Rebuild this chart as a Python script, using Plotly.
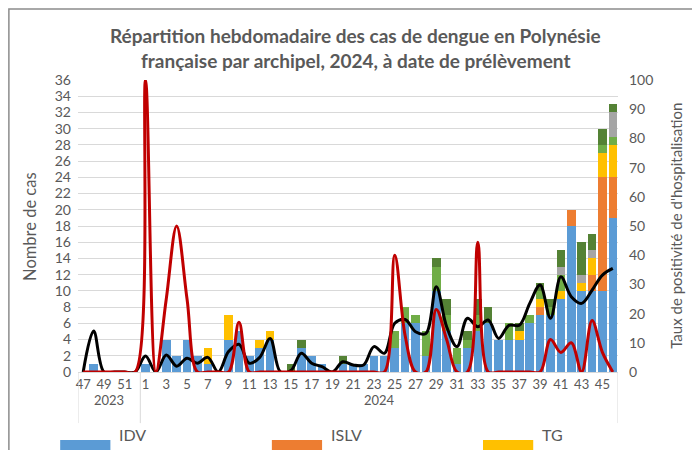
import plotly.graph_objects as go

# semaines : 47-52 de 2023 puis 1-46 de 2024
weeks = [47, 48, 49, 50, 51, 52] + list(range(1, 47))
x_idx = list(range(len(weeks)))

# nombre de cas par archipel (un élément par semaine)
idv = [0, 1, 0, 0, 0, 0,
       1, 0, 4, 2, 4, 2, 1, 0, 4, 5, 2, 3, 4, 0, 0, 3, 2, 1, 0, 1,
       1, 1, 2, 2, 3, 6, 6, 2, 10, 5, 1, 3, 5, 6, 4, 4, 4, 6, 7, 7,
       9, 18, 10, 10, 10, 19]
islv = [0, 0, 0, 0, 0, 0,
        0, 0, 0, 0, 0, 0, 0, 0, 0, 0, 0, 0, 0, 0, 0, 0, 0, 0, 0, 0,
        0, 0, 0, 0, 0, 0, 0, 0, 0, 0, 0, 0, 0, 0, 0, 0, 0, 0, 1, 0,
        0, 2, 0, 2, 14, 5]
tg = [0, 0, 0, 0, 0, 0,
      0, 0, 0, 0, 0, 0, 2, 0, 3, 0, 0, 1, 1, 0, 0, 0, 0, 0, 0, 0,
      0, 0, 0, 0, 0, 0, 0, 0, 0, 0, 0, 0, 0, 0, 0, 0, 1, 0, 1, 0,
      1, 0, 1, 2, 3, 4]
marquises = [0, 0, 0, 0, 0, 0,
             0, 0, 0, 0, 0, 0, 0, 0, 0, 0, 0, 0, 0, 0, 0, 0, 0, 0, 0, 0,
             0, 0, 0, 0, 2, 2, 1, 3, 3, 2, 2, 1, 2, 0, 0, 2, 0, 1, 1, 1,
             2, 0, 0, 0, 1, 1]
australes = [0, 0, 0, 0, 0, 0,
             0, 0, 0, 0, 0, 0, 0, 0, 0, 0, 0, 0, 0, 0, 0, 0, 0, 0, 0, 0,
             0, 0, 0, 0, 0, 0, 0, 0, 0, 0, 0, 0, 0, 0, 0, 0, 0, 0, 0, 0,
             1, 0, 1, 1, 0, 3]
autres = [0, 0, 0, 0, 0, 0,
          0, 0, 0, 0, 0, 0, 0, 0, 0, 0, 0, 0, 0, 0, 1, 1, 0, 0, 0, 1,
          0, 0, 0, 0, 0, 0, 0, 0, 1, 2, 0, 1, 2, 2, 0, 0, 1, 0, 1, 1,
          2, 0, 4, 2, 2, 1]

# taux (%) - axe de droite
taux_hospit = [0, 0, 0, 0, 0, 0,
               100, 0, 25, 50, 25, 0, 0, 0, 0, 17, 0, 0, 0, 0, 0, 0, 0, 0, 0, 0,
               0, 0, 0, 0, 40, 12.5, 0, 0, 21.4, 11.1, 0, 0, 44.4, 0, 0, 0, 0, 0, 0, 11.1,
               6.7, 10, 0, 17.6, 6.7, 0]
taux_positivite = [0, 14, 0, 0, 0, 0,
                   5.5, 0, 5.8, 2, 4.7, 3, 5, 0, 7, 9.5, 3, 5, 11.5, 0, 0.5, 6.4, 3, 1.8, 0, 3.5,
                   2.4, 2.4, 8.7, 6.4, 16.7, 18, 13.8, 13.2, 29.2, 15.5, 8.7, 18.4, 15.5, 17.8, 11.5, 16,
                   16, 23.5, 29.8, 18.4, 32.6, 25.8, 23.5, 28, 33.2, 35.5]

series = [
    ('IDV', idv, '#5B9BD5'),
    ('ISLV', islv, '#ED7D31'),
    ('TG', tg, '#FFC000'),
    ('Marquises', marquises, '#70AD47'),
    ('Australes', australes, '#A5A5A5'),
    ('Autres', autres, '#548235'),
]

GREY = '#595959'
FONT = 'Lato'

fig = go.Figure()
for name, vals, color in series:
    fig.add_trace(go.Bar(x=x_idx, y=vals, name=name, marker_color=color,
                         marker_line_width=0, showlegend=False))

fig.add_trace(go.Scatter(x=x_idx, y=taux_positivite, yaxis='y2', mode='lines',
                         line=dict(color='black', width=3, shape='spline', smoothing=1),
                         name='Taux de positivité', showlegend=False))
fig.add_trace(go.Scatter(x=x_idx, y=taux_hospit, yaxis='y2', mode='lines',
                         line=dict(color='#C00000', width=3, shape='spline', smoothing=1),
                         name="Taux d'hospitalisation", showlegend=False))

shapes = []
# séparateurs des années sous l'axe
for xs in [-0.5, 5.5, 51.5]:
    shapes.append(dict(type='line', xref='x', yref='paper', x0=xs, x1=xs, y0=0, y1=-0.175,
                       line=dict(color='#D9D9D9', width=1)))
# cadre du graphique
shapes.append(dict(type='rect', xref='paper', yref='paper', x0=-0.128, x1=1.144, y0=-0.4, y1=1.243,
                   line=dict(color='#8C8C8C', width=1.5)))

annotations = [
    dict(x=0.513, y=1.199, xref='paper', yref='paper', showarrow=False,
         text='<b>Répartition hebdomadaire des cas de dengue en Polynésie</b>',
         font=dict(size=19, color=GREY, family=FONT)),
    dict(x=0.513, y=1.113, xref='paper', yref='paper', showarrow=False,
         text='<b>française par archipel, 2024, à date de prélèvement</b>',
         font=dict(size=19, color=GREY, family=FONT)),
    dict(x=2.5, y=-0.13, xref='x', yref='paper', text='2023', showarrow=False,
         font=dict(size=13, color=GREY, family=FONT)),
    dict(x=28.5, y=-0.13, xref='x', yref='paper', text='2024', showarrow=False,
         font=dict(size=13, color=GREY, family=FONT)),
    dict(x=-0.089, y=0.5, xref='paper', yref='paper', text='Nombre de cas', textangle=-90,
         xanchor='center', yanchor='middle',
         showarrow=False, font=dict(size=16.5, color=GREY, family=FONT)),
    dict(x=1.107, y=0.5, xref='paper', yref='paper', text="Taux de positivité de d'hospitalisation",
         xanchor='center', yanchor='middle',
         textangle=-90, showarrow=False, font=dict(size=15, color=GREY, family=FONT)),
]

# légende (seule la première ligne est visible)
legend_pos = [(-0.033, 'IDV', '#5B9BD5'), (0.359, 'ISLV', '#ED7D31'), (0.75, 'TG', '#FFC000')]
for lx, name, color in legend_pos:
    shapes.append(dict(type='rect', xref='paper', yref='paper', x0=lx, x1=lx + 0.093,
                       y0=-0.3, y1=-0.233, fillcolor=color, line=dict(width=0)))
    annotations.append(dict(x=lx + 0.105, y=-0.255, xref='paper', yref='paper', text=name,
                            xanchor='left', showarrow=False,
                            font=dict(size=16, color=GREY, family=FONT)))

fig.update_layout(
    width=700, height=450,
    margin=dict(l=70, r=90, t=72, b=86),
    plot_bgcolor='white', paper_bgcolor='white',
    barmode='stack', bargap=0.18,
    font=dict(family=FONT, color=GREY),
    xaxis=dict(range=[-0.5, 51.5], tickmode='array', tickvals=x_idx[::2], ticktext=[str(w) for w in weeks[::2]],
               showline=True, linecolor='#D9D9D9', linewidth=1, showgrid=False, ticks='',
               tickfont=dict(size=13, color=GREY)),
    yaxis=dict(range=[0, 36], dtick=2, gridcolor='#D9D9D9', zeroline=False, showline=False,
               tickfont=dict(size=14, color=GREY), ticklabelstandoff=6),
    yaxis2=dict(range=[0, 100], dtick=10, overlaying='y', side='right', showgrid=False,
                zeroline=False, showline=False, tickfont=dict(size=14, color=GREY), ticklabelstandoff=10),
    shapes=shapes, annotations=annotations,
)

fig.write_html("out.html")
